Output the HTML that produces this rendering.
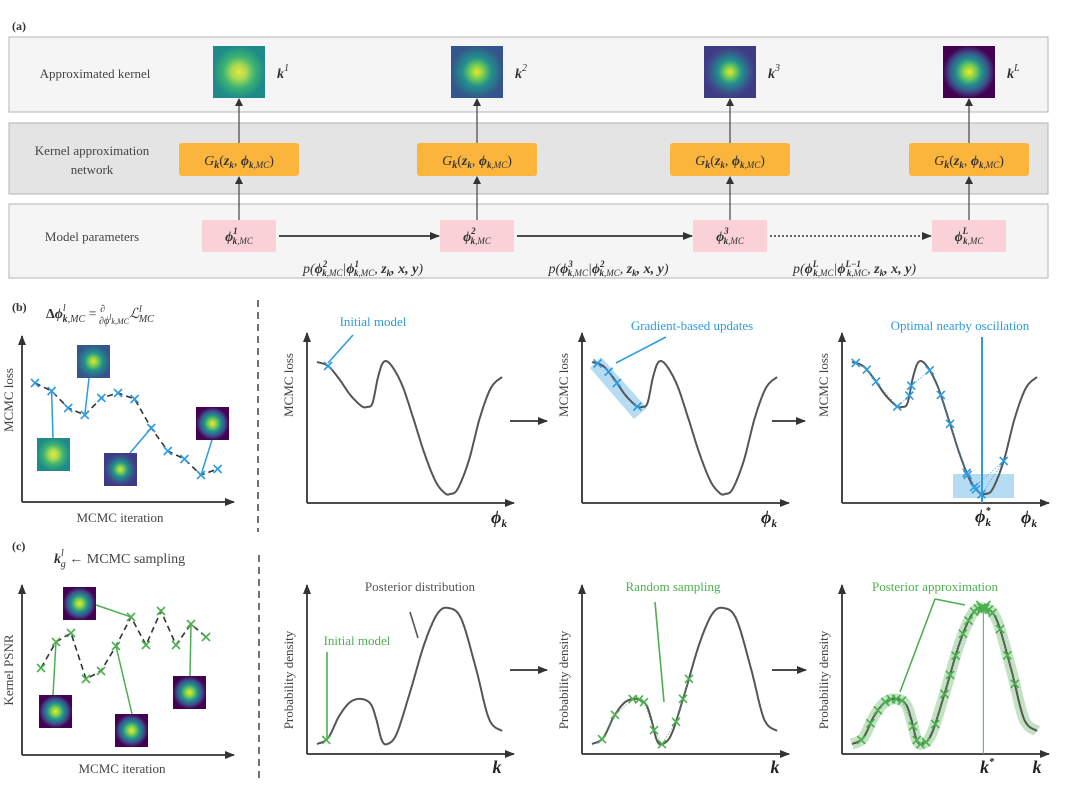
<!DOCTYPE html>
<html><head><meta charset="utf-8">
<style>
html,body{margin:0;padding:0;background:#fff;}
svg{display:block;font-family:"Liberation Serif",serif;}
.lbl{font-size:13px;fill:#444;}
.math{font-style:italic;font-size:14px;fill:#333;}
.bold{font-weight:bold;}
</style></head>
<body>
<svg id="fig" width="1080" height="804" viewBox="0 0 1080 804" xmlns="http://www.w3.org/2000/svg">
<defs>
 <radialGradient id="gTeal" cx="50%" cy="50%" r="50%"><stop offset="0" stop-color="#e8e838"/><stop offset="0.3" stop-color="#a6d854"/><stop offset="0.6" stop-color="#3db372"/><stop offset="1" stop-color="#1f8a8a"/></radialGradient>
 <radialGradient id="gBlue" cx="50%" cy="50%" r="50%"><stop offset="0" stop-color="#f2e424"/><stop offset="0.25" stop-color="#7ad151"/><stop offset="0.55" stop-color="#23908c"/><stop offset="1" stop-color="#33578c"/></radialGradient>
 <radialGradient id="gInd" cx="50%" cy="50%" r="50%"><stop offset="0" stop-color="#f2e424"/><stop offset="0.2" stop-color="#7ad151"/><stop offset="0.45" stop-color="#21918c"/><stop offset="0.8" stop-color="#3b4f8a"/><stop offset="1" stop-color="#3e3b86"/></radialGradient>
 <radialGradient id="gPur" cx="50%" cy="50%" r="50%"><stop offset="0" stop-color="#fde725"/><stop offset="0.25" stop-color="#7ad151"/><stop offset="0.5" stop-color="#21918c"/><stop offset="0.75" stop-color="#3b528b"/><stop offset="1" stop-color="#440154"/></radialGradient>
 <marker id="ah" markerWidth="10" markerHeight="8" refX="9" refY="4" orient="auto" markerUnits="userSpaceOnUse"><path d="M0,0 L10,4 L0,8 z" fill="#333"/></marker>
 <marker id="ahs" markerWidth="8" markerHeight="8" refX="7" refY="4" orient="auto" markerUnits="userSpaceOnUse"><path d="M0,0 L8,4 L0,8 z" fill="#333"/></marker>
</defs>

<text x="12" y="30" font-size="12" font-weight="bold" fill="#333">(a)</text>
<rect x="9" y="37" width="1039" height="75" fill="#f5f5f5" stroke="#b5b5b5"/>
<rect x="9" y="123" width="1039" height="71" fill="#e4e4e4" stroke="#b5b5b5"/>
<rect x="9" y="204" width="1039" height="74" fill="#f5f5f5" stroke="#b5b5b5"/>
<text x="95" y="78" text-anchor="middle" class="lbl">Approximated kernel</text>
<text x="92" y="155" text-anchor="middle" class="lbl">Kernel approximation</text>
<text x="92" y="174" text-anchor="middle" class="lbl">network</text>
<text x="92" y="241" text-anchor="middle" class="lbl">Model parameters</text>
<g id="acols"></g>

<text x="12" y="311" font-size="12" font-weight="bold" fill="#333">(b)</text>
<text x="46" y="318" class="math" font-size="16"><tspan font-weight="bold" font-style="normal">Δ</tspan><tspan font-weight="bold">ϕ</tspan><tspan font-size="10" dy="-7">l</tspan><tspan font-size="10" dx="-3" dy="11" font-weight="bold">k</tspan><tspan font-size="10">,MC</tspan><tspan dy="-4" font-style="normal"> = </tspan><tspan font-size="10" dy="-6">∂</tspan><tspan font-size="10" dx="-6" dy="12">∂ϕ</tspan><tspan font-size="8" dy="-4">l</tspan><tspan font-size="8" dy="4">k,MC</tspan><tspan dy="-6">ℒ</tspan><tspan font-size="10" dy="-6">l</tspan><tspan font-size="10" dx="-3" dy="10">MC</tspan></text>
<line x1="258" y1="300" x2="258" y2="532" stroke="#444" stroke-width="1.5" stroke-dasharray="7,5"/>
<text x="12" y="550" font-size="12" font-weight="bold" fill="#333">(c)</text>
<text x="54" y="563" class="math" font-size="16"><tspan font-weight="bold">k</tspan><tspan font-size="10" dy="-7">l</tspan><tspan font-size="10" dx="-3" dy="11">g</tspan><tspan dy="-4" font-style="normal" style="fill:#444"> ← MCMC sampling</tspan></text>
<line x1="259" y1="555" x2="259" y2="778" stroke="#444" stroke-width="1.5" stroke-dasharray="7,5"/>
<g id="plots"></g>
</svg>

<script>
// ---------- data ----------
const colCenters = [239, 477, 730, 969];
const colKernelStyles = ["gTeal","gBlue","gInd","gPur"];
const colSup = ["1","2","3","L"];
const lossIter = [0,1,2,3,4,5,6,7,8,9,10,11];
const lossVals = [119,111,94,87,104,109,103,74,51,43,27,33];
const psnrVals = [87,113,122,76,84,109,138,110,144,110,131,118];
const lossT   = [0,0.06,0.12,0.18,0.24,0.27,0.30,0.33,0.36,0.40,0.46,0.52,0.58,0.64,0.69,0.72,0.76,0.82,0.88,0.94,1];
const lossY   = [141,137,124,108,97,96,100,126,141,138,118,85,50,22,10,9,14,42,85,115,126];
const densT = [0,0.06,0.12,0.18,0.24,0.29,0.32,0.35,0.38,0.43,0.50,0.58,0.65,0.71,0.78,0.86,0.93,1];
const densY = [10,16,38,52,55,50,35,14,10,20,60,110,140,146,135,85,35,23];
const gradMarkers = [0.03,0.09,0.135,0.245];
const oscMarkers = [0.02,0.08,0.13,0.245,0.31,0.32,0.42,0.48,0.53,0.62,0.625,0.70,0.82,0.66,0.67];
const randMarkers = [0.054,0.124,0.22,0.254,0.281,0.335,0.378,0.454,0.492,0.524];
const postMarkers = [0.05,0.1,0.14,0.18,0.21,0.24,0.27,0.33,0.35,0.37,0.4,0.45,0.5,0.53,0.56,0.6,0.63,0.66,0.68,0.7,0.71,0.72,0.74,0.76,0.8,0.84,0.88];

const NS = "http://www.w3.org/2000/svg";
function mk(tag, attrs, parent){const e=document.createElementNS(NS,tag);for(const k in attrs)e.setAttribute(k,attrs[k]);(parent||document.getElementById('plots')).appendChild(e);return e;}

const ac = document.getElementById('acols');
colCenters.forEach((cx,i)=>{
  const img = mk('rect',{x:cx-26,y:46,width:52,height:52,fill:'url(#'+colKernelStyles[i]+')'},ac);
  
  
  const kt = mk('text',{x:cx+38,y:78,class:'math','font-weight':'bold'},ac);
  kt.innerHTML='k<tspan font-size="10" dy="-7" font-weight="normal">'+colSup[i]+'</tspan>';
  
  
  const ob = mk('rect',{x:cx-60,y:143,width:120,height:33,rx:3,fill:'#fbb43c'},ac);
  
  
  const ot = mk('text',{x:cx,y:165,'text-anchor':'middle',class:'math'},ac);
  ot.innerHTML='G<tspan font-size="10" dy="3" font-weight="bold">k</tspan><tspan dy="-3" font-style="normal">(</tspan><tspan font-weight="bold">z</tspan><tspan font-size="9" dy="3" font-weight="bold">k</tspan><tspan dy="-3" font-style="normal">, </tspan><tspan font-weight="bold">ϕ</tspan><tspan font-size="9" dy="3"><tspan font-weight="bold">k</tspan>,MC</tspan><tspan dy="-3" font-style="normal">)</tspan>';
  
  
  const pb = mk('rect',{x:cx-37,y:220,width:74,height:32,rx:2,fill:'#f9d1d7'},ac);
  
  
  const pt = mk('text',{x:cx,y:241,'text-anchor':'middle',class:'math'},ac);
  pt.innerHTML='<tspan font-weight="bold">ϕ</tspan><tspan font-size="9" dy="-7" font-weight="bold">'+colSup[i]+'</tspan><tspan font-size="9" dx="-5" dy="10"><tspan font-weight="bold">k</tspan>,MC</tspan>';
  
  
  const a1 = mk('line',{x1:cx,y1:220,x2:cx,y2:177,stroke:'#444','stroke-width':1.2,'marker-end':'url(#ahs)'},ac);
  
  
  const a2 = mk('line',{x1:cx,y1:143,x2:cx,y2:99,stroke:'#444','stroke-width':1.2,'marker-end':'url(#ahs)'},ac);
  
  
  if(i<3){
    const nx = colCenters[i+1];
    const ha = mk('line',{x1:cx+40,y1:236,x2:nx-38,y2:236,stroke:'#333','stroke-width':i<2?1.8:1.6,'stroke-dasharray':i==2?'2,2':'none','marker-end':'url(#ah)'},ac);
    
    
    const sup2 = i==2?'L':String(i+2), sup1 = i==2?'L−1':String(i+1);
    const tt = mk('text',{x:(cx+nx)/2+5,y:273,'text-anchor':'middle',class:'math'},ac);
    tt.innerHTML='p(<tspan font-weight="bold">ϕ</tspan><tspan font-size="9" dy="-6" font-weight="bold">'+sup2+'</tspan><tspan font-size="9" dx="-5" dy="9"><tspan font-weight="bold">k</tspan>,MC</tspan><tspan dy="-3">|</tspan><tspan font-weight="bold">ϕ</tspan><tspan font-size="9" dy="-6" font-weight="bold">'+sup1+'</tspan><tspan font-size="9" dx="-'+(i==2?14:5)+'" dy="9"><tspan font-weight="bold">k</tspan>,MC</tspan><tspan dy="-3">, </tspan><tspan font-weight="bold">z</tspan><tspan font-size="9" dy="3" font-weight="bold">k</tspan><tspan dy="-3" font-weight="bold">, x, y</tspan>)';
    
    
  }
});

function axes(x0,yTop,y0,xEnd,name){
  const g=mk('g',{});
  
  
  mk('line',{x1:x0,y1:y0,x2:x0,y2:yTop,stroke:'#333','stroke-width':1.8,'marker-end':'url(#ah)'},g);
  mk('line',{x1:x0,y1:y0,x2:xEnd,y2:y0,stroke:'#333','stroke-width':1.8,'marker-end':'url(#ah)'},g);
  return g;
}
function vlabel(x,cy,txt,name){
  const t=mk('text',{x:x,y:cy,'text-anchor':'middle',transform:'rotate(-90 '+x+' '+cy+')',class:'lbl'});
  t.textContent=txt;
  
  
}
function htext(x,y,txt,name,cls,fill,size){
  const t=mk('text',{x:x,y:y,'text-anchor':'middle',class:cls||'lbl'});
  if(fill)t.style.fill=fill;
  if(size)t.style.fontSize=size+'px';
  t.textContent=txt;
  
  
  return t;
}
function cross(g,x,y,c,s){
  s=s||4;
  mk('path',{d:`M${x-s},${y-s}L${x+s},${y+s}M${x-s},${y+s}L${x+s},${y-s}`,stroke:c,'stroke-width':1.6},g);
}
function dense(T,Y){
  const out=[];
  for(let i=0;i<T.length-1;i++){
    const p0=[T[Math.max(i-1,0)],Y[Math.max(i-1,0)]],p1=[T[i],Y[i]],p2=[T[i+1],Y[i+1]],p3=[T[Math.min(i+2,T.length-1)],Y[Math.min(i+2,T.length-1)]];
    for(let s=0;s<20;s++){const u=s/20,u2=u*u,u3=u2*u;
      const f=(a,b,c,d)=>0.5*((2*b)+(-a+c)*u+(2*a-5*b+4*c-d)*u2+(-a+3*b-3*c+d)*u3);
      out.push([f(p0[0],p1[0],p2[0],p3[0]),f(p0[1],p1[1],p2[1],p3[1])]);}
  }
  out.push([T[T.length-1],Y[Y.length-1]]);return out;
}
function at(D,t){for(let i=0;i<D.length-1;i++){if(D[i][0]<=t&&D[i+1][0]>=t){const r=(t-D[i][0])/(D[i+1][0]-D[i][0]||1);return D[i][1]+r*(D[i+1][1]-D[i][1]);}}return D[D.length-1][1];}
const lossD=dense(lossT,lossY), densD=dense(densT,densY);
function curve(D,x0,y0,name,extra){
  const sx=t=>x0+t*185, sy=v=>y0-v;
  const d='M'+D.map(p=>sx(p[0]).toFixed(1)+','+sy(p[1]).toFixed(1)).join('L');
  if(extra){const b=mk('path',{d:d,fill:'none',stroke:'rgba(120,190,120,0.45)','stroke-width':11,'stroke-linejoin':'round'});
    
    }
  const p=mk('path',{d:d,fill:'none',stroke:'#555','stroke-width':2});
  
  
  return {sx,sy};
}
function markerSet(D,sc,ts,color,name,links){
  const g=mk('g',{});
  
  
  const pts=ts.map(t=>[sc.sx(t),sc.sy(at(D,t))]);
  if(links){mk('path',{d:'M'+pts.map(p=>p[0].toFixed(1)+','+p[1].toFixed(1)).join('L'),fill:'none',stroke:color,'stroke-width':0.8,'stroke-dasharray':'1.5,1.5',opacity:0.8},g);}
  pts.forEach(p=>cross(g,p[0],p[1],color));
  return pts;
}
const BLUE='#2d9be0', GREEN='#4cb050';

axes(22,336,502,234,'loss-trace-axes');
vlabel(13,400,'MCMC loss','loss-trace-y-title');
htext(120,522,'MCMC iteration','loss-trace-x-title');
const ix=i=>35+i*16.6, ly=v=>502-v;
(function(){
  const g=mk('g',{});
  
  
  mk('path',{d:'M'+lossIter.map(i=>ix(i)+','+ly(lossVals[i])).join('L'),fill:'none',stroke:'#333','stroke-width':1.6,'stroke-dasharray':'6,4'},g);
  lossIter.forEach(i=>cross(g,ix(i),ly(lossVals[i]),BLUE));
})();
function kimg(x,y,grad,name,lx1,ly1,lx2,ly2,col){
  const l=mk('line',{x1:lx1,y1:ly1,x2:lx2,y2:ly2,stroke:col,'stroke-width':1.5});
  
  
  const r=mk('rect',{x:x,y:y,width:33,height:33,fill:'url(#'+grad+')'});
  
  
}
kimg(37,438,'gTeal','loss-kernel-1',53,438,ix(1),ly(lossVals[1]),BLUE);
kimg(77,345,'gBlue','loss-kernel-2',89,378,ix(3),ly(lossVals[3]),BLUE);
kimg(104,453,'gInd','loss-kernel-3',130,453,ix(7),ly(lossVals[7]),BLUE);
kimg(196,407,'gPur','loss-kernel-4',212,440,ix(10),ly(lossVals[10]),BLUE);

const bX=[307,582,842], bC=[317,592,852];
bX.forEach((x,i)=>{axes(x,333,503,x+207,'loss-landscape-axes-'+(i+1)); vlabel(x-14,385,'MCMC loss','loss-landscape-y-title-'+(i+1));});
function phiLabel(x,y,name,star){
  const t=mk('text',{x:x,y:y,'text-anchor':'middle',class:'math','font-weight':'bold'});
  t.style.fontSize='18px'; t.style.fill='#222';
  t.innerHTML='ϕ'+(star?'<tspan font-size="10" dy="-8">*</tspan><tspan font-size="11" dx="-5" dy="12">k</tspan>':'<tspan font-size="11" dy="4">k</tspan>');
  
  
}
phiLabel(499,523,'phi-axis-label-1');
phiLabel(769,523,'phi-axis-label-2');
phiLabel(1029,523,'phi-axis-label-3');
phiLabel(983,522,'phi-star-label',true);
const sc1=curve(lossD,bC[0],503,'loss-curve-1');
(function(){const r=mk('polygon',{points:'590,368 601,357 647,408 634,419',fill:'rgba(45,155,224,0.35)'});

})();
const sc2=curve(lossD,bC[1],503,'loss-curve-2');
const rr=mk('rect',{x:953,y:474,width:61,height:24,fill:'rgba(45,155,224,0.35)'});


const sc3=curve(lossD,bC[2],503,'loss-curve-3');
markerSet(lossD,sc1,[0.06],BLUE,'initial-model-marker');
markerSet(lossD,sc2,gradMarkers,BLUE,'gradient-markers');
markerSet(lossD,sc3,oscMarkers,BLUE,'oscillation-markers',true);
const vl=mk('line',{x1:982,y1:337,x2:982,y2:503,stroke:BLUE,'stroke-width':2});


htext(373,326,'Initial model','initial-model-label','lbl',BLUE);
htext(692,330,'Gradient-based updates','gradient-label','lbl',BLUE);
htext(960,330,'Optimal nearby oscillation','oscillation-label','lbl',BLUE);
[[353,335,328,363],[666,337,616,363]].forEach((l,i)=>{const e=mk('line',{x1:l[0],y1:l[1],x2:l[2],y2:l[3],stroke:BLUE,'stroke-width':1.6});

});
[[510,547,421],[772,805,421],[510,547,670],[772,806,670]].forEach(a=>{const e=mk('line',{x1:a[0],y1:a[2],x2:a[1],y2:a[2],stroke:'#333','stroke-width':1.8,'marker-end':'url(#ah)'});

});

axes(22,585,755,234,'psnr-trace-axes');
vlabel(13,670,'Kernel PSNR','psnr-trace-y-title');
htext(122,773,'MCMC iteration','psnr-trace-x-title');
const cy=v=>755-v;
(function(){
  const g=mk('g',{});
  
  
  const cx=i=>41+i*15;
  mk('path',{d:'M'+psnrVals.map((v,i)=>cx(i)+','+cy(v)).join('L'),fill:'none',stroke:'#333','stroke-width':1.6,'stroke-dasharray':'6,4'},g);
  psnrVals.forEach((v,i)=>cross(g,cx(i),cy(v),GREEN));
})();
kimg(39,695,'gPur','psnr-kernel-1',53,695,56,cy(psnrVals[1]),GREEN);
kimg(63,587,'gPur','psnr-kernel-2',96,605,131,cy(psnrVals[6]),GREEN);
kimg(115,714,'gPur','psnr-kernel-3',132,714,116,cy(psnrVals[5]),GREEN);
kimg(173,676,'gPur','psnr-kernel-4',190,676,191,cy(psnrVals[10]),GREEN);

bX.forEach((x,i)=>{axes(x,585,754,x+207,'density-axes-'+(i+1)); vlabel(x-14,680,'Probability density','density-y-title-'+(i+1));});
const d1=curve(densD,bC[0],754,'density-curve-1');
const d2=curve(densD,bC[1],754,'density-curve-2');
const d3=curve(densD,bC[2],754,'density-curve-3',true);
markerSet(densD,d1,[0.05],GREEN,'initial-sample-marker');
markerSet(densD,d2,randMarkers,GREEN,'random-sample-markers',true);
markerSet(densD,d3,postMarkers,GREEN,'posterior-markers',true);
(function(){const g=mk('g',{});cross(g,d3.sx(0.71),d3.sy(146),GREEN,7);})();
const kv=mk('line',{x1:d3.sx(0.71),y1:d3.sy(146),x2:d3.sx(0.71),y2:754,stroke:GREEN,'stroke-width':1});


htext(420,591,'Posterior distribution','posterior-distribution-label','lbl','#555');
htext(357,645,'Initial model','initial-model-c-label','lbl',GREEN);
htext(673,591,'Random sampling','random-sampling-label','lbl',GREEN);
htext(935,591,'Posterior approximation','posterior-approx-label','lbl',GREEN);
[[410,612,418,638,'#555'],[327,652,327,738,GREEN],[655,602,664,702,GREEN],[900,692,935,599,GREEN],[935,599,965,605,GREEN]].forEach(l=>{const e=mk('line',{x1:l[0],y1:l[1],x2:l[2],y2:l[3],stroke:l[4],'stroke-width':1.6});

});
[[497,'k','k-axis-label-1'],[775,'k','k-axis-label-2'],[1037,'k','k-axis-label-3']].forEach(a=>{const t=htext(a[0],773,a[1],a[2],'math','#222',18);t.setAttribute('font-weight','bold');});
(function(){const t=mk('text',{x:987,y:773,'text-anchor':'middle',class:'math','font-weight':'bold'});
t.style.fontSize='18px'; t.style.fill='#222';
t.innerHTML='k<tspan font-size="10" dy="-8">*</tspan>';

})();
</script>
</body></html>
